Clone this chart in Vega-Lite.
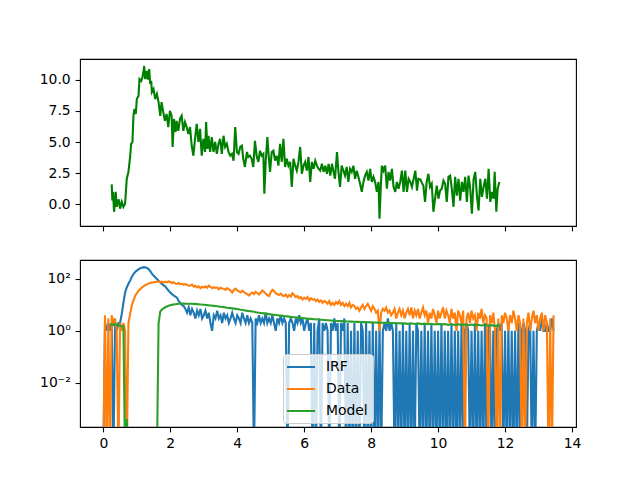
{
  "$schema": "https://vega.github.io/schema/vega-lite/v6.json",
  "padding": {"left": 38, "top": 58, "right": 5, "bottom": 5},
  "background": "white",
  "config": {
    "font": "DejaVu Sans",
    "view": {"stroke": "#000000", "strokeWidth": 1.1},
    "axis": {
      "domain": false, "grid": false, "title": null,
      "tickColor": "#000000", "tickSize": 4.9, "tickWidth": 1.1,
      "labelColor": "#000000", "labelFontSize": 13.9, "labelFont": "DejaVu Sans",
      "labelPadding": 4.9, "labelFlush": false
    }
  },
  "datasets": {
    "resid": [
      {"t":0.25,"v":1.6},{"t":0.27,"v":0.3},{"t":0.29,"v":1.0},{"t":0.32,"v":-0.6},{"t":0.37,"v":1.0},{"t":0.40,"v":-0.2},{"t":0.46,"v":0.4},{"t":0.50,"v":-0.35},{"t":0.55,"v":0.2},{"t":0.60,"v":-0.2},{"t":0.65,"v":0.05},{"t":0.70,"v":2.05},{"t":0.75,"v":2.6},{"t":0.80,"v":3.8},{"t":0.83,"v":4.85},{"t":0.87,"v":5.0},{"t":0.90,"v":7.1},{"t":0.93,"v":7.65},{"t":0.97,"v":7.25},{"t":1.00,"v":8.45},{"t":1.05,"v":8.7},{"t":1.08,"v":10.05},{"t":1.13,"v":9.9},{"t":1.17,"v":10.2},{"t":1.20,"v":10.7},{"t":1.22,"v":11.1},{"t":1.25,"v":10.05},{"t":1.30,"v":10.7},{"t":1.33,"v":10.0},{"t":1.37,"v":10.85},{"t":1.40,"v":9.65},{"t":1.43,"v":9.9},{"t":1.45,"v":9.0},{"t":1.50,"v":9.25},{"t":1.55,"v":8.45},{"t":1.60,"v":8.85},{"t":1.65,"v":8.2},{"t":1.70,"v":7.1},{"t":1.74,"v":8.2},{"t":1.79,"v":7.4},{"t":1.84,"v":6.7},{"t":1.89,"v":7.25},{"t":1.94,"v":6.2},{"t":1.99,"v":7.5},{"t":2.04,"v":7.1},{"t":2.07,"v":4.6},{"t":2.11,"v":6.85},{"t":2.16,"v":5.8},{"t":2.19,"v":6.7},{"t":2.24,"v":5.9},{"t":2.29,"v":6.85},{"t":2.34,"v":7.1},{"t":2.39,"v":5.9},{"t":2.44,"v":6.6},{"t":2.49,"v":6.2},{"t":2.54,"v":5.65},{"t":2.59,"v":6.2},{"t":2.64,"v":4.7},{"t":2.69,"v":3.9},{"t":2.74,"v":5.25},{"t":2.79,"v":6.45},{"t":2.84,"v":5.0},{"t":2.89,"v":6.05},{"t":2.94,"v":3.9},{"t":2.99,"v":5.25},{"t":3.04,"v":4.2},{"t":3.07,"v":6.6},{"t":3.11,"v":4.45},{"t":3.14,"v":5.5},{"t":3.19,"v":4.2},{"t":3.24,"v":5.4},{"t":3.29,"v":4.2},{"t":3.34,"v":5.0},{"t":3.39,"v":4.05},{"t":3.44,"v":4.85},{"t":3.49,"v":5.25},{"t":3.54,"v":4.05},{"t":3.59,"v":5.5},{"t":3.64,"v":4.6},{"t":3.69,"v":4.85},{"t":3.74,"v":4.2},{"t":3.79,"v":3.9},{"t":3.84,"v":4.05},{"t":3.89,"v":3.5},{"t":3.94,"v":6.2},{"t":3.99,"v":4.2},{"t":4.04,"v":4.05},{"t":4.09,"v":4.6},{"t":4.14,"v":4.7},{"t":4.18,"v":3.65},{"t":4.23,"v":3.0},{"t":4.29,"v":4.2},{"t":4.33,"v":3.8},{"t":4.38,"v":3.9},{"t":4.43,"v":3.65},{"t":4.48,"v":3.0},{"t":4.53,"v":5.1},{"t":4.58,"v":3.9},{"t":4.63,"v":3.4},{"t":4.68,"v":4.3},{"t":4.73,"v":3.9},{"t":4.78,"v":4.05},{"t":4.81,"v":0.85},{"t":4.85,"v":3.4},{"t":4.90,"v":5.4},{"t":4.94,"v":3.9},{"t":4.98,"v":2.6},{"t":5.03,"v":4.2},{"t":5.08,"v":4.3},{"t":5.13,"v":3.5},{"t":5.18,"v":3.9},{"t":5.23,"v":3.1},{"t":5.28,"v":4.85},{"t":5.33,"v":3.4},{"t":5.38,"v":5.25},{"t":5.43,"v":3.0},{"t":5.48,"v":3.65},{"t":5.53,"v":3.1},{"t":5.58,"v":3.4},{"t":5.63,"v":1.4},{"t":5.68,"v":3.65},{"t":5.73,"v":3.1},{"t":5.78,"v":2.7},{"t":5.83,"v":3.4},{"t":5.88,"v":4.6},{"t":5.93,"v":2.45},{"t":5.98,"v":3.1},{"t":6.03,"v":3.4},{"t":6.08,"v":2.7},{"t":6.13,"v":3.8},{"t":6.18,"v":1.8},{"t":6.23,"v":3.4},{"t":6.28,"v":2.85},{"t":6.33,"v":3.5},{"t":6.38,"v":3.1},{"t":6.43,"v":2.85},{"t":6.48,"v":2.7},{"t":6.53,"v":3.25},{"t":6.58,"v":2.6},{"t":6.63,"v":3.1},{"t":6.68,"v":2.45},{"t":6.73,"v":3.25},{"t":6.78,"v":2.3},{"t":6.83,"v":3.25},{"t":6.87,"v":2.7},{"t":6.92,"v":2.05},{"t":6.98,"v":4.2},{"t":7.02,"v":2.7},{"t":7.07,"v":1.4},{"t":7.12,"v":3.1},{"t":7.17,"v":2.7},{"t":7.22,"v":2.3},{"t":7.27,"v":3.0},{"t":7.32,"v":1.8},{"t":7.37,"v":2.85},{"t":7.42,"v":2.6},{"t":7.47,"v":3.1},{"t":7.52,"v":2.05},{"t":7.57,"v":2.7},{"t":7.62,"v":2.2},{"t":7.67,"v":1.65},{"t":7.72,"v":1.0},{"t":7.77,"v":1.8},{"t":7.82,"v":2.3},{"t":7.87,"v":2.6},{"t":7.92,"v":1.9},{"t":7.97,"v":2.85},{"t":8.02,"v":1.8},{"t":8.07,"v":2.2},{"t":8.12,"v":1.8},{"t":8.17,"v":1.0},{"t":8.22,"v":1.8},{"t":8.25,"v":-1.15},{"t":8.29,"v":1.5},{"t":8.32,"v":3.1},{"t":8.37,"v":2.7},{"t":8.42,"v":3.1},{"t":8.47,"v":1.25},{"t":8.52,"v":2.6},{"t":8.57,"v":1.9},{"t":8.62,"v":2.85},{"t":8.67,"v":1.4},{"t":8.72,"v":1.0},{"t":8.77,"v":1.8},{"t":8.82,"v":1.25},{"t":8.87,"v":1.8},{"t":8.92,"v":2.7},{"t":8.97,"v":1.0},{"t":9.02,"v":2.7},{"t":9.07,"v":1.0},{"t":9.12,"v":2.05},{"t":9.17,"v":1.8},{"t":9.22,"v":1.4},{"t":9.27,"v":2.05},{"t":9.32,"v":2.7},{"t":9.37,"v":1.1},{"t":9.41,"v":2.05},{"t":9.47,"v":2.0},{"t":9.52,"v":1.7},{"t":9.56,"v":1.5},{"t":9.61,"v":0.2},{"t":9.66,"v":1.8},{"t":9.71,"v":2.45},{"t":9.76,"v":1.4},{"t":9.81,"v":1.65},{"t":9.86,"v":-0.6},{"t":9.91,"v":0.45},{"t":9.96,"v":1.5},{"t":10.01,"v":0.45},{"t":10.06,"v":1.1},{"t":10.11,"v":1.25},{"t":10.16,"v":1.9},{"t":10.21,"v":1.65},{"t":10.26,"v":0.2},{"t":10.31,"v":2.2},{"t":10.36,"v":2.3},{"t":10.41,"v":1.25},{"t":10.46,"v":-0.2},{"t":10.51,"v":2.2},{"t":10.56,"v":0.7},{"t":10.61,"v":2.05},{"t":10.66,"v":0.3},{"t":10.71,"v":1.8},{"t":10.76,"v":1.0},{"t":10.81,"v":2.2},{"t":10.86,"v":0.2},{"t":10.91,"v":2.3},{"t":10.96,"v":1.25},{"t":11.01,"v":-0.75},{"t":11.06,"v":2.0},{"t":11.11,"v":2.6},{"t":11.16,"v":0.7},{"t":11.21,"v":-0.5},{"t":11.26,"v":2.05},{"t":11.31,"v":0.6},{"t":11.36,"v":1.4},{"t":11.41,"v":2.05},{"t":11.46,"v":0.45},{"t":11.51,"v":2.85},{"t":11.56,"v":0.2},{"t":11.61,"v":1.0},{"t":11.66,"v":0.45},{"t":11.69,"v":2.6},{"t":11.74,"v":-0.6},{"t":11.78,"v":1.25},{"t":11.83,"v":1.8}
    ],
    "irf": [
      {"t":0,"v":1e-5},{"t":0.05,"v":2},{"t":0.1,"v":1},{"t":0.15,"v":2},{"t":0.2,"v":1},{"t":0.25,"v":2},{"t":0.3,"v":1e-5},{"t":0.35,"v":2},{"t":0.4,"v":1},{"t":0.45,"v":2},{"t":0.5,"v":2},{"t":0.55,"v":4.5},{"t":0.6,"v":12},{"t":0.65,"v":30},{"t":0.7,"v":47},{"t":0.75,"v":65},{"t":0.8,"v":86},{"t":0.85,"v":120},{"t":0.9,"v":155},{"t":0.95,"v":185},{"t":1,"v":209},{"t":1.05,"v":235},{"t":1.1,"v":257},{"t":1.15,"v":270},{"t":1.2,"v":285},{"t":1.25,"v":280},{"t":1.3,"v":265},{"t":1.35,"v":240},{"t":1.4,"v":200},{"t":1.45,"v":160},{"t":1.5,"v":135},{"t":1.55,"v":115},{"t":1.6,"v":100},{"t":1.65,"v":86},{"t":1.7,"v":74},{"t":1.75,"v":64},{"t":1.8,"v":57},{"t":1.85,"v":52},{"t":1.9,"v":42},{"t":1.95,"v":35},{"t":2,"v":30},{"t":2.05,"v":26},{"t":2.1,"v":23},{"t":2.15,"v":21},{"t":2.2,"v":19},{"t":2.25,"v":14},{"t":2.3,"v":12},{"t":2.35,"v":10},{"t":2.4,"v":9},{"t":2.45,"v":7},{"t":2.5,"v":5},{"t":2.55,"v":8},{"t":2.6,"v":4},{"t":2.65,"v":7},{"t":2.7,"v":5},{"t":2.75,"v":3},{"t":2.8,"v":6},{"t":2.85,"v":4},{"t":2.9,"v":7},{"t":2.95,"v":3},{"t":3,"v":4},{"t":3.05,"v":6},{"t":3.1,"v":3},{"t":3.15,"v":5},{"t":3.2,"v":2},{"t":3.25,"v":1},{"t":3.3,"v":4},{"t":3.35,"v":3},{"t":3.4,"v":6},{"t":3.45,"v":3},{"t":3.5,"v":4},{"t":3.55,"v":2},{"t":3.6,"v":5},{"t":3.65,"v":3},{"t":3.7,"v":4},{"t":3.75,"v":2},{"t":3.8,"v":3},{"t":3.85,"v":5},{"t":3.9,"v":3},{"t":3.95,"v":2},{"t":4,"v":4},{"t":4.05,"v":3},{"t":4.1,"v":2},{"t":4.15,"v":5},{"t":4.2,"v":3},{"t":4.25,"v":2},{"t":4.3,"v":4},{"t":4.35,"v":2},{"t":4.4,"v":3},{"t":4.45,"v":2},{"t":4.5,"v":1e-5},{"t":4.55,"v":3},{"t":4.6,"v":2},{"t":4.65,"v":4},{"t":4.7,"v":2},{"t":4.75,"v":3},{"t":4.8,"v":2},{"t":4.85,"v":5},{"t":4.9,"v":2},{"t":4.95,"v":3},{"t":5,"v":2},{"t":5.05,"v":4},{"t":5.1,"v":2},{"t":5.15,"v":1},{"t":5.2,"v":3},{"t":5.25,"v":2},{"t":5.3,"v":4},{"t":5.35,"v":2},{"t":5.4,"v":3},{"t":5.45,"v":2},{"t":5.5,"v":1e-5},{"t":5.55,"v":2},{"t":5.6,"v":3},{"t":5.65,"v":2},{"t":5.7,"v":1},{"t":5.75,"v":3},{"t":5.8,"v":2},{"t":5.85,"v":4},{"t":5.9,"v":2},{"t":5.95,"v":3},{"t":6,"v":1},{"t":6.05,"v":2},{"t":6.1,"v":3},{"t":6.15,"v":1},{"t":6.2,"v":2},{"t":6.25,"v":1e-5},{"t":6.3,"v":2},{"t":6.35,"v":1e-5},{"t":6.4,"v":1},{"t":6.45,"v":3},{"t":6.5,"v":1e-5},{"t":6.55,"v":2},{"t":6.6,"v":1},{"t":6.65,"v":2},{"t":6.7,"v":1},{"t":6.75,"v":1e-5},{"t":6.8,"v":2},{"t":6.85,"v":1},{"t":6.9,"v":3},{"t":6.95,"v":1},{"t":7,"v":2},{"t":7.05,"v":1e-5},{"t":7.1,"v":2},{"t":7.15,"v":1},{"t":7.2,"v":3},{"t":7.25,"v":1e-5},{"t":7.3,"v":2},{"t":7.35,"v":1e-5},{"t":7.4,"v":1},{"t":7.45,"v":1e-5},{"t":7.5,"v":2},{"t":7.55,"v":1e-5},{"t":7.6,"v":1},{"t":7.65,"v":1e-5},{"t":7.7,"v":2},{"t":7.75,"v":1},{"t":7.8,"v":1e-5},{"t":7.85,"v":2},{"t":7.9,"v":1e-5},{"t":7.95,"v":1},{"t":8,"v":1e-5},{"t":8.05,"v":2},{"t":8.1,"v":1e-5},{"t":8.15,"v":1},{"t":8.2,"v":1e-5},{"t":8.25,"v":2},{"t":8.3,"v":1e-5},{"t":8.35,"v":1},{"t":8.4,"v":2},{"t":8.45,"v":1},{"t":8.5,"v":3},{"t":8.55,"v":1},{"t":8.6,"v":2},{"t":8.65,"v":1},{"t":8.7,"v":1e-5},{"t":8.75,"v":2},{"t":8.8,"v":1e-5},{"t":8.85,"v":1},{"t":8.9,"v":1e-5},{"t":8.95,"v":2},{"t":9,"v":1e-5},{"t":9.05,"v":1},{"t":9.1,"v":1e-5},{"t":9.15,"v":2},{"t":9.2,"v":1e-5},{"t":9.25,"v":1},{"t":9.3,"v":1e-5},{"t":9.35,"v":2},{"t":9.4,"v":1},{"t":9.45,"v":1e-5},{"t":9.5,"v":1},{"t":9.55,"v":1e-5},{"t":9.6,"v":2},{"t":9.65,"v":1e-5},{"t":9.7,"v":1},{"t":9.75,"v":1e-5},{"t":9.8,"v":2},{"t":9.85,"v":1e-5},{"t":9.9,"v":1},{"t":9.95,"v":1e-5},{"t":10,"v":1},{"t":10.05,"v":1e-5},{"t":10.1,"v":2},{"t":10.15,"v":1e-5},{"t":10.2,"v":1},{"t":10.25,"v":1e-5},{"t":10.3,"v":1},{"t":10.35,"v":1e-5},{"t":10.4,"v":2},{"t":10.45,"v":1e-5},{"t":10.5,"v":1},{"t":10.55,"v":1e-5},{"t":10.6,"v":1},{"t":10.65,"v":1e-5},{"t":10.7,"v":2},{"t":10.75,"v":1e-5},{"t":10.8,"v":1},{"t":10.85,"v":2},{"t":10.9,"v":1},{"t":10.95,"v":1e-5},{"t":11,"v":1},{"t":11.05,"v":1e-5},{"t":11.1,"v":2},{"t":11.15,"v":1e-5},{"t":11.2,"v":1},{"t":11.25,"v":1e-5},{"t":11.3,"v":1},{"t":11.35,"v":1e-5},{"t":11.4,"v":2},{"t":11.45,"v":1e-5},{"t":11.5,"v":1},{"t":11.55,"v":2},{"t":11.6,"v":1e-5},{"t":11.65,"v":1},{"t":11.7,"v":1e-5},{"t":11.75,"v":1},{"t":11.8,"v":2},{"t":11.85,"v":1},{"t":11.9,"v":2},{"t":11.95,"v":1e-5},{"t":12,"v":1},{"t":12.05,"v":1e-5},{"t":12.1,"v":2},{"t":12.15,"v":1e-5},{"t":12.2,"v":1},{"t":12.25,"v":1e-5},{"t":12.3,"v":1},{"t":12.35,"v":1e-5},{"t":12.4,"v":2},{"t":12.45,"v":1e-5},{"t":12.5,"v":1},{"t":12.55,"v":2},{"t":12.6,"v":1},{"t":12.65,"v":1e-5},{"t":12.7,"v":1},{"t":12.75,"v":2},{"t":12.8,"v":1e-5},{"t":12.85,"v":1},{"t":12.9,"v":1e-5},{"t":12.95,"v":1},{"t":13,"v":2},{"t":13.05,"v":1},{"t":13.1,"v":3},{"t":13.15,"v":1},{"t":13.2,"v":1},{"t":13.25,"v":2},{"t":13.3,"v":1},{"t":13.35,"v":1},{"t":13.4,"v":3},{"t":13.45,"v":1}
    ],
    "counts": [
      {"t":0,"v":1e-5},{"t":0.05,"v":4},{"t":0.1,"v":1e-5},{"t":0.15,"v":3},{"t":0.2,"v":1e-5},{"t":0.25,"v":4},{"t":0.3,"v":2},{"t":0.35,"v":3},{"t":0.4,"v":1},{"t":0.45,"v":1e-5},{"t":0.5,"v":2},{"t":0.55,"v":1},{"t":0.6,"v":2},{"t":0.65,"v":1},{"t":0.7,"v":1e-5},{"t":0.75,"v":2},{"t":0.8,"v":4.5},{"t":0.85,"v":9.4},{"t":0.9,"v":15},{"t":0.95,"v":22},{"t":1,"v":28},{"t":1.05,"v":35},{"t":1.1,"v":40},{"t":1.15,"v":47},{"t":1.2,"v":52},{"t":1.25,"v":58},{"t":1.3,"v":62},{"t":1.35,"v":66},{"t":1.4,"v":70},{"t":1.45,"v":72},{"t":1.5,"v":75},{"t":1.55,"v":77},{"t":1.6,"v":78},{"t":1.65,"v":80},{"t":1.7,"v":76},{"t":1.75,"v":79},{"t":1.8,"v":72},{"t":1.85,"v":78},{"t":1.9,"v":74},{"t":1.95,"v":80},{"t":2,"v":76},{"t":2.05,"v":70},{"t":2.1,"v":75},{"t":2.15,"v":66},{"t":2.2,"v":64},{"t":2.25,"v":70},{"t":2.3,"v":62},{"t":2.35,"v":66},{"t":2.4,"v":60},{"t":2.45,"v":64},{"t":2.5,"v":58},{"t":2.55,"v":56},{"t":2.6,"v":55},{"t":2.65,"v":60},{"t":2.7,"v":50},{"t":2.75,"v":54},{"t":2.8,"v":47},{"t":2.85,"v":52},{"t":2.9,"v":44},{"t":2.95,"v":50},{"t":3,"v":47},{"t":3.05,"v":52},{"t":3.1,"v":46},{"t":3.15,"v":55},{"t":3.2,"v":50},{"t":3.25,"v":44},{"t":3.3,"v":48},{"t":3.35,"v":45},{"t":3.4,"v":47},{"t":3.45,"v":40},{"t":3.5,"v":46},{"t":3.55,"v":43},{"t":3.6,"v":42},{"t":3.65,"v":38},{"t":3.7,"v":44},{"t":3.75,"v":40},{"t":3.8,"v":36},{"t":3.85,"v":30},{"t":3.9,"v":38},{"t":3.95,"v":42},{"t":4,"v":36},{"t":4.05,"v":33},{"t":4.1,"v":30},{"t":4.15,"v":35},{"t":4.2,"v":31},{"t":4.25,"v":28},{"t":4.3,"v":26},{"t":4.35,"v":23},{"t":4.4,"v":27},{"t":4.45,"v":30},{"t":4.5,"v":26},{"t":4.55,"v":32},{"t":4.6,"v":28},{"t":4.65,"v":25},{"t":4.7,"v":30},{"t":4.75,"v":36},{"t":4.8,"v":32},{"t":4.85,"v":27},{"t":4.9,"v":24},{"t":4.95,"v":22},{"t":5,"v":30},{"t":5.05,"v":38},{"t":5.1,"v":34},{"t":5.15,"v":28},{"t":5.2,"v":26},{"t":5.25,"v":24},{"t":5.3,"v":27},{"t":5.35,"v":23},{"t":5.4,"v":22},{"t":5.45,"v":25},{"t":5.5,"v":20},{"t":5.55,"v":24},{"t":5.6,"v":21},{"t":5.65,"v":28},{"t":5.7,"v":24},{"t":5.75,"v":20},{"t":5.8,"v":22},{"t":5.85,"v":18},{"t":5.9,"v":20},{"t":5.95,"v":16},{"t":6,"v":19},{"t":6.05,"v":17},{"t":6.1,"v":20},{"t":6.15,"v":15},{"t":6.2,"v":18},{"t":6.25,"v":16},{"t":6.3,"v":17},{"t":6.35,"v":14},{"t":6.4,"v":16},{"t":6.45,"v":13},{"t":6.5,"v":15},{"t":6.55,"v":12},{"t":6.6,"v":14},{"t":6.65,"v":13},{"t":6.7,"v":11},{"t":6.75,"v":14},{"t":6.8,"v":10},{"t":6.85,"v":12},{"t":6.9,"v":10},{"t":6.95,"v":13},{"t":7,"v":11},{"t":7.05,"v":14},{"t":7.1,"v":10},{"t":7.15,"v":12},{"t":7.2,"v":9},{"t":7.25,"v":11},{"t":7.3,"v":9},{"t":7.35,"v":12},{"t":7.4,"v":8},{"t":7.45,"v":10},{"t":7.5,"v":9},{"t":7.55,"v":7},{"t":7.6,"v":8},{"t":7.65,"v":6},{"t":7.7,"v":8},{"t":7.75,"v":10},{"t":7.8,"v":7},{"t":7.85,"v":9},{"t":7.9,"v":11},{"t":7.95,"v":8},{"t":8,"v":6},{"t":8.05,"v":9},{"t":8.1,"v":7},{"t":8.15,"v":5},{"t":8.2,"v":6},{"t":8.25,"v":1},{"t":8.3,"v":5},{"t":8.35,"v":7},{"t":8.4,"v":6},{"t":8.45,"v":8},{"t":8.5,"v":5},{"t":8.55,"v":6},{"t":8.6,"v":4},{"t":8.65,"v":5},{"t":8.7,"v":7},{"t":8.75,"v":3},{"t":8.8,"v":5},{"t":8.85,"v":7},{"t":8.9,"v":4},{"t":8.95,"v":6},{"t":9,"v":3},{"t":9.05,"v":5},{"t":9.1,"v":7},{"t":9.15,"v":4},{"t":9.2,"v":8},{"t":9.25,"v":3},{"t":9.3,"v":6},{"t":9.35,"v":4},{"t":9.4,"v":7},{"t":9.45,"v":3},{"t":9.5,"v":5},{"t":9.55,"v":8},{"t":9.6,"v":4},{"t":9.65,"v":6},{"t":9.7,"v":2},{"t":9.75,"v":5},{"t":9.8,"v":3},{"t":9.85,"v":7},{"t":9.9,"v":4},{"t":9.95,"v":2},{"t":10,"v":6},{"t":10.05,"v":3},{"t":10.1,"v":5},{"t":10.15,"v":8},{"t":10.2,"v":3},{"t":10.25,"v":6},{"t":10.3,"v":4},{"t":10.35,"v":2},{"t":10.4,"v":7},{"t":10.45,"v":3},{"t":10.5,"v":5},{"t":10.55,"v":1},{"t":10.6,"v":6},{"t":10.65,"v":4},{"t":10.7,"v":2},{"t":10.75,"v":6},{"t":10.8,"v":1e-5},{"t":10.85,"v":3},{"t":10.9,"v":5},{"t":10.95,"v":2},{"t":11,"v":6},{"t":11.05,"v":3},{"t":11.1,"v":4},{"t":11.15,"v":1},{"t":11.2,"v":5},{"t":11.25,"v":3},{"t":11.3,"v":7},{"t":11.35,"v":2},{"t":11.4,"v":4},{"t":11.45,"v":3},{"t":11.5,"v":1e-5},{"t":11.55,"v":4},{"t":11.6,"v":2},{"t":11.65,"v":5},{"t":11.7,"v":1},{"t":11.75,"v":1e-5},{"t":11.8,"v":3},{"t":11.85,"v":1e-5},{"t":11.9,"v":4},{"t":11.95,"v":2},{"t":12,"v":5},{"t":12.05,"v":3},{"t":12.1,"v":1},{"t":12.15,"v":4},{"t":12.2,"v":2},{"t":12.25,"v":6},{"t":12.3,"v":3},{"t":12.35,"v":1},{"t":12.4,"v":4},{"t":12.45,"v":2},{"t":12.5,"v":1e-5},{"t":12.55,"v":3},{"t":12.6,"v":1e-5},{"t":12.65,"v":2},{"t":12.7,"v":5},{"t":12.75,"v":1},{"t":12.8,"v":3},{"t":12.85,"v":6},{"t":12.9,"v":2},{"t":12.95,"v":4},{"t":13,"v":1},{"t":13.05,"v":3},{"t":13.1,"v":5},{"t":13.15,"v":1},{"t":13.2,"v":4},{"t":13.25,"v":2},{"t":13.3,"v":1e-5},{"t":13.35,"v":3},{"t":13.4,"v":1e-5},{"t":13.45,"v":4}
    ],
    "fit": [
      {"t":0.2,"v":1.7},{"t":0.25,"v":1.8},{"t":0.3,"v":1.7},{"t":0.35,"v":1.75},{"t":0.4,"v":1.7},{"t":0.45,"v":1.65},{"t":0.5,"v":1.6},{"t":0.55,"v":1.5},{"t":0.6,"v":1.45},{"t":0.65,"v":1e-5},{"t":0.7,"v":0.0004},{"t":0.75,"v":1e-5},{"t":1.6,"v":1e-5},{"t":1.65,"v":1.9},{"t":1.7,"v":5.5},{"t":1.75,"v":6.6},{"t":1.8,"v":7.4},{"t":1.85,"v":8.1},{"t":1.9,"v":8.7},{"t":1.95,"v":9.2},{"t":2,"v":9.6},{"t":2.05,"v":10},{"t":2.1,"v":10.3},{"t":2.15,"v":10.6},{"t":2.2,"v":10.8},{"t":2.25,"v":11},{"t":2.3,"v":11.1},{"t":2.4,"v":11.2},{"t":2.5,"v":11.1},{"t":2.6,"v":11},{"t":2.7,"v":10.9},{"t":2.8,"v":10.7},{"t":2.9,"v":10.4},{"t":3,"v":10.1},{"t":3.1,"v":9.8},{"t":3.2,"v":9.5},{"t":3.3,"v":9.2},{"t":3.4,"v":8.9},{"t":3.5,"v":8.5},{"t":3.6,"v":8.2},{"t":3.7,"v":7.8},{"t":3.8,"v":7.5},{"t":3.9,"v":7.2},{"t":4,"v":6.9},{"t":4.1,"v":6.5},{"t":4.2,"v":6.2},{"t":4.3,"v":5.9},{"t":4.4,"v":5.7},{"t":4.5,"v":5.4},{"t":4.6,"v":5.1},{"t":4.7,"v":4.9},{"t":4.8,"v":4.7},{"t":4.9,"v":4.5},{"t":5,"v":4.3},{"t":5.1,"v":4.15},{"t":5.2,"v":4},{"t":5.3,"v":3.85},{"t":5.4,"v":3.7},{"t":5.5,"v":3.6},{"t":5.6,"v":3.45},{"t":5.7,"v":3.35},{"t":5.8,"v":3.25},{"t":5.9,"v":3.15},{"t":6,"v":3.05},{"t":6.1,"v":2.95},{"t":6.2,"v":2.88},{"t":6.3,"v":2.8},{"t":6.4,"v":2.72},{"t":6.5,"v":2.66},{"t":6.6,"v":2.6},{"t":6.7,"v":2.55},{"t":6.8,"v":2.5},{"t":6.9,"v":2.45},{"t":7,"v":2.4},{"t":7.1,"v":2.37},{"t":7.2,"v":2.33},{"t":7.3,"v":2.3},{"t":7.4,"v":2.27},{"t":7.5,"v":2.25},{"t":7.6,"v":2.22},{"t":7.7,"v":2.2},{"t":7.8,"v":2.17},{"t":7.9,"v":2.15},{"t":8,"v":2.12},{"t":8.1,"v":2.1},{"t":8.2,"v":2.08},{"t":8.3,"v":2.06},{"t":8.4,"v":2.04},{"t":8.5,"v":2.02},{"t":8.6,"v":2},{"t":8.7,"v":1.98},{"t":8.8,"v":1.96},{"t":8.9,"v":1.94},{"t":9,"v":1.93},{"t":9.1,"v":1.86},{"t":9.2,"v":1.95},{"t":9.3,"v":1.84},{"t":9.4,"v":1.93},{"t":9.5,"v":1.82},{"t":9.6,"v":1.9},{"t":9.7,"v":1.8},{"t":9.8,"v":1.88},{"t":9.9,"v":1.76},{"t":10,"v":1.85},{"t":10.1,"v":1.74},{"t":10.2,"v":1.84},{"t":10.3,"v":1.7},{"t":10.4,"v":1.8},{"t":10.5,"v":1.69},{"t":10.6,"v":1.78},{"t":10.7,"v":1.66},{"t":10.8,"v":1.76},{"t":10.9,"v":1.64},{"t":11,"v":1.74},{"t":11.1,"v":1.62},{"t":11.2,"v":1.72},{"t":11.3,"v":1.6},{"t":11.4,"v":1.7},{"t":11.5,"v":1.58},{"t":11.6,"v":1.66},{"t":11.7,"v":1.56},{"t":11.8,"v":1.62},{"t":11.85,"v":1.55}
    ]
  },
  "vconcat": [
    {
      "width": 496,
      "height": 167,
      "data": {"name": "resid"},
      "mark": {"type": "line", "color": "#008000", "strokeWidth": 2.1, "clip": true},
      "encoding": {
        "x": {"field": "t", "type": "quantitative",
              "scale": {"domain": [-0.697, 14.12], "nice": false, "zero": false},
              "axis": {"values": [0, 2, 4, 6, 8, 10, 12, 14], "labels": false}},
        "y": {"field": "v", "type": "quantitative",
              "scale": {"domain": [-1.74, 11.66], "nice": false, "zero": false},
              "axis": {"values": [0, 2.5, 5, 7.5, 10], "format": ".1f"}}
      }
    },
    {
      "width": 496,
      "height": 167,
      "encoding": {
        "x": {"field": "t", "type": "quantitative",
              "scale": {"domain": [-0.697, 14.12], "nice": false, "zero": false},
              "axis": {"values": [0, 2, 4, 6, 8, 10, 12, 14], "format": "d"}},
        "y": {"field": "v", "type": "quantitative",
              "scale": {"type": "log", "domain": [0.000196, 538], "nice": false},
              "axis": {"values": [0.01, 1, 100],
                       "labelExpr": "datum.value >= 50 ? '10²' : datum.value >= 0.5 ? '10⁰' : '10⁻²'"}}
      },
      "layer": [
        {
          "data": {"name": "irf"},
          "mark": {"type": "line", "strokeWidth": 2.1, "clip": true},
          "encoding": {
            "color": {"datum": "IRF", "type": "nominal",
              "scale": {"domain": ["IRF", "Data", "Model"], "range": ["#1f77b4", "#ff7f0e", "#2ca02c"]},
              "legend": {
                "title": null, "orient": "none", "legendX": 203, "legendY": 94,
                "symbolType": "M-2,0H2", "symbolSize": 196, "symbolStrokeWidth": 2, "symbolOffset": 5,
                "labelFontSize": 13.9, "labelFont": "DejaVu Sans", "labelColor": "#000000", "labelOffset": 17,
                "fillColor": "rgba(255,255,255,0.8)", "strokeColor": "#cccccc", "cornerRadius": 3,
                "padding": 5, "rowPadding": 7
              }}
          }
        },
        {
          "data": {"name": "counts"},
          "mark": {"type": "line", "strokeWidth": 2.1, "clip": true},
          "encoding": {"color": {"datum": "Data", "type": "nominal"}}
        },
        {
          "data": {"name": "fit"},
          "mark": {"type": "line", "strokeWidth": 2.1, "clip": true},
          "encoding": {"color": {"datum": "Model", "type": "nominal"}}
        }
      ]
    }
  ],
  "spacing": 34,
  "bounds": "flush",
  "resolve": {"legend": {"color": "independent"}}
}
